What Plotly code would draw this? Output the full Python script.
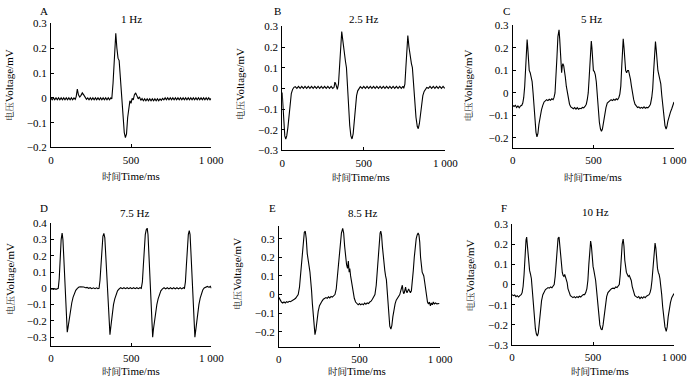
import plotly.graph_objects as go

# ---------------- data ----------------
panel_letters = ["A", "B", "C", "D", "E", "F"]
panel_freqs = ["1 Hz", "2.5 Hz", "5 Hz", "7.5 Hz", "8.5 Hz", "10 Hz"]
x_tick_vals = [0, 500, 1000]
x_tick_text = ["0", "500", "1 000"]
y_label_cn, y_label_en = "电压", "Voltage/mV"
x_label_cn, x_label_en = "时间", "Time/ms"

t_A = [0, 8, 16, 24, 32, 40, 48, 56, 64, 72, 80, 88, 96, 104, 112, 120, 128, 136, 144, 152,
       158, 165, 172, 180, 188, 196, 205, 214, 222, 230, 238, 246, 254, 262, 270, 278, 286, 294,
       302, 310, 318, 326, 334, 342, 350, 358, 366, 374, 380, 388, 396, 405, 412, 419, 426, 433,
       440, 447, 452, 458, 465, 472, 479, 486, 493, 500, 507, 514, 521, 529, 537, 545, 553, 561,
       569, 577, 585, 593, 601, 609, 617, 625, 633, 641, 649, 657, 665, 673, 681, 689, 697, 705,
       713, 721, 729, 737, 745, 753, 761, 769, 777, 785, 793, 801, 809, 817, 825, 833, 841, 849,
       857, 865, 873, 881, 889, 897, 905, 913, 921, 929, 937, 945, 953, 961, 969, 977, 985, 993, 1000]
v_A = [0, -0.008, 0, -0.008, 0, -0.008, 0, -0.008, 0, -0.008, 0, -0.008, 0, -0.008, 0, -0.008, 0, -0.008, 0, -0.006,
       0.005, 0.035, 0.012, 0.003, 0.01, 0.02, 0.012, 0.0, -0.006, 0, -0.008, 0, -0.008, 0, -0.008, 0, -0.008, 0,
       -0.008, 0, -0.008, 0, -0.008, 0, -0.008, 0, -0.008, 0, -0.004, 0.06, 0.18, 0.26, 0.2, 0.16, 0.15, 0.09,
       0.03, -0.04, -0.1, -0.14, -0.16, -0.145, -0.08, -0.03, -0.012, -0.022, -0.002, -0.008, 0.012, 0.02, 0.01, -0.004, 0.004, -0.01,
       -0.003, -0.012, -0.004, -0.012, -0.004, -0.012, -0.004, -0.012, -0.004, -0.012, -0.004, -0.012, -0.004, -0.012, -0.004, -0.01, -0.002, -0.008,
       0, -0.008, 0, -0.008, 0, -0.008, 0, -0.008, 0, -0.008, 0, -0.008, 0, -0.008, 0, -0.008, 0, -0.008,
       0, -0.008, 0, -0.008, 0, -0.008, 0, -0.008, 0, -0.008, 0, -0.008, 0, -0.008, 0, -0.008, 0, -0.008, -0.002]

t_B = [0, 5, 10, 16, 22, 28, 35, 42, 49, 56, 64, 72, 80,
       90, 100, 110, 120, 130, 140, 150, 160, 170, 180, 190, 200, 210, 220, 230, 240, 250, 260, 270, 280, 290, 300, 310,
       318, 323, 328, 333, 338, 345, 352, 358, 365, 372, 380, 388, 394, 400, 407, 414, 421, 428, 435, 442, 449, 456, 463, 470, 479,
       490, 500, 510, 520, 530, 540, 550, 560, 570, 580, 590, 600, 610, 620, 630, 640, 650, 660, 670, 680, 690, 700, 710, 720, 730, 740,
       745, 752, 758, 764, 770, 777, 785, 792, 798, 805, 812, 820, 828, 834, 841, 848, 855, 862, 870, 878, 886,
       896, 906, 916, 926, 936, 946, 956, 966, 976, 986, 996]
v_B = [-0.02, -0.1, -0.18, -0.23, -0.245, -0.23, -0.19, -0.13, -0.07, -0.025, -0.005, 0.005, 0.008,
       0.0, 0.01, 0.0, 0.01, 0.0, 0.01, 0.0, 0.01, 0.0, 0.01, 0.0, 0.01, 0.0, 0.01, 0.0, 0.01, 0.0, 0.01, 0.0, 0.01, 0.0, 0.01, 0.0,
       0.005, 0.03, 0.022, 0.0, -0.005, 0.02, 0.12, 0.22, 0.275, 0.23, 0.16, 0.13, 0.1, 0.0, -0.09, -0.18, -0.23, -0.245, -0.22, -0.15, -0.08, -0.035, -0.012, 0.0, 0.008,
       0.0, 0.01, 0.0, 0.01, 0.0, 0.01, 0.0, 0.01, 0.0, 0.01, 0.0, 0.01, 0.0, 0.01, 0.0, 0.01, 0.0, 0.01, 0.0, 0.01, 0.0, 0.01, 0.0, 0.01, 0.0, 0.01,
       0.0, 0.02, 0.1, 0.2, 0.255, 0.2, 0.14, 0.12, 0.1, 0.02, -0.06, -0.14, -0.185, -0.195, -0.17, -0.12, -0.07, -0.035, -0.015, -0.004, 0.004,
       0.0, 0.01, 0.0, 0.01, 0.0, 0.01, 0.0, 0.01, 0.0, 0.01, 0.0]

t_C = [0, 8, 16, 24, 32, 40, 48, 56, 62, 68, 74, 79, 84, 89, 93, 97, 102, 108, 114, 120, 126, 132, 138, 144, 150, 156, 162,
       170, 178, 186, 194, 202, 210, 218, 226, 234, 242, 250, 256, 262, 268, 274, 280, 287, 291, 295, 299, 303, 307, 311, 316,
       321, 326, 332, 338, 345, 352, 360, 368, 376, 384, 392, 400, 408, 416, 424, 432, 440, 448, 456, 462, 468, 474, 480, 487,
       491, 495, 500, 506, 512, 518, 524, 530, 537, 544, 550, 556, 562, 570, 578, 586, 594, 602, 610, 618, 626, 634, 642, 650,
       658, 664, 670, 676, 681, 685, 690, 695, 700, 706, 712, 718, 724, 730, 736, 742, 750, 758, 766, 774, 782, 790, 798, 806,
       814, 822, 830, 838, 846, 854, 862, 868, 874, 880, 885, 890, 895, 900, 906, 912, 918, 924, 930, 937, 944, 951, 956, 962,
       970, 978, 986, 993, 1000]
v_C = [-0.055, -0.06, -0.055, -0.065, -0.058, -0.066, -0.058, -0.055, -0.045, -0.02, 0.03, 0.1, 0.19, 0.237, 0.2, 0.14, 0.1, 0.09, 0.075, 0.05, 0.0, -0.07, -0.13, -0.175, -0.195, -0.18, -0.14,
       -0.1, -0.075, -0.055, -0.04, -0.035, -0.03, -0.034, -0.028, -0.032, -0.026, -0.03, -0.02, 0.0, 0.06, 0.16, 0.25, 0.28, 0.24, 0.17, 0.1, 0.09, 0.12, 0.13, 0.12,
       0.1, 0.07, 0.03, 0.0, -0.03, -0.05, -0.062, -0.068, -0.07, -0.065, -0.072, -0.065, -0.072, -0.068, -0.07, -0.064, -0.066, -0.06, -0.05, -0.03, 0.0, 0.07, 0.17, 0.23,
       0.2, 0.14, 0.1, 0.095, 0.08, 0.05, -0.01, -0.07, -0.13, -0.16, -0.17, -0.16, -0.13, -0.095, -0.065, -0.045, -0.04, -0.035, -0.03, -0.034, -0.028, -0.032, -0.026, -0.03,
       -0.02, -0.005, 0.03, 0.12, 0.2, 0.24, 0.2, 0.14, 0.1, 0.09, 0.1, 0.1, 0.085, 0.06, 0.03, 0.0, -0.03, -0.05, -0.06, -0.065, -0.062, -0.068, -0.064, -0.068,
       -0.062, -0.068, -0.064, -0.066, -0.06, -0.05, -0.02, 0.02, 0.1, 0.19, 0.228, 0.19, 0.13, 0.1, 0.08, 0.06, 0.04, -0.01, -0.06, -0.11, -0.145, -0.16, -0.15, -0.125,
       -0.1, -0.085, -0.07, -0.055, -0.04]

t_D = [0, 8, 16, 24, 32, 40, 46, 52, 58, 64, 70, 75, 80, 86, 92, 97, 102, 107, 112, 118, 124, 130, 138, 146, 155, 165, 175,
       185, 195, 205, 215, 225, 235, 245, 255, 265, 275, 285, 293, 300, 306, 312, 318, 324, 330, 336, 342, 348, 354, 359, 364,
       368, 373, 378, 384, 390, 398, 406, 415, 425, 435, 445, 455, 465, 475, 485, 495, 505, 515, 525, 535, 545, 555, 563, 570,
       576, 582, 588, 594, 600, 605, 610, 616, 621, 626, 631, 634, 639, 645, 652, 660, 668, 676, 685, 695, 705, 715, 725, 735,
       745, 755, 765, 775, 785, 795, 805, 815, 825, 832, 838, 844, 850, 856, 862, 867, 872, 878, 883, 888, 893, 897, 902, 908,
       915, 922, 930, 938, 946, 955, 965, 975, 985, 993, 1000]
v_D = [-0.005, -0.002, -0.006, -0.002, -0.006, -0.002, 0.0, 0.06, 0.2, 0.3, 0.34, 0.3, 0.2, 0.08, -0.05, -0.18, -0.27, -0.24, -0.2, -0.16, -0.12, -0.09, -0.055, -0.03, -0.012, 0.0, 0.008,
       0.01, 0.01, 0.008, 0.004, 0.006, 0.0, 0.004, -0.002, 0.003, -0.002, 0.003, -0.002, 0.0, 0.05, 0.15, 0.26, 0.32, 0.338, 0.31, 0.2, 0.08, -0.05, -0.18, -0.27,
       -0.285, -0.24, -0.19, -0.14, -0.1, -0.065, -0.035, -0.015, -0.004, 0.004, -0.002, 0.004, -0.002, 0.004, -0.002, 0.004, -0.002, 0.004, -0.002, 0.004, -0.002, 0.004, 0.0, 0.04,
       0.14, 0.26, 0.33, 0.36, 0.37, 0.33, 0.22, 0.08, -0.06, -0.2, -0.29, -0.3, -0.25, -0.2, -0.14, -0.1, -0.065, -0.035, -0.015, -0.003, 0.004, -0.003, 0.004, -0.003,
       0.004, -0.003, 0.004, -0.003, 0.004, -0.003, 0.004, -0.003, 0.004, 0.0, 0.04, 0.14, 0.26, 0.33, 0.355, 0.33, 0.23, 0.09, -0.05, -0.19, -0.29, -0.3, -0.26, -0.2,
       -0.14, -0.1, -0.06, -0.03, -0.01, 0.002, 0.01, 0.012, 0.006, 0.012, 0.0]

t_E = [0, 8, 16, 24, 32, 40, 48, 56, 64, 72, 80, 88, 96, 104, 112, 120, 128, 136, 144, 152, 158, 164, 170, 176, 182, 188, 193,
       198, 203, 208, 213, 218, 224, 230, 236, 244, 252, 260, 268, 276, 284, 292, 300, 308, 316, 324, 332, 340, 348, 356, 364,
       372, 380, 388, 396, 402, 408, 414, 420, 426, 431, 436, 440, 445, 450, 456, 462, 468, 476, 484, 492, 500, 508, 516, 524,
       532, 540, 548, 556, 564, 572, 580, 588, 596, 604, 610, 616, 622, 628, 632, 637, 642, 647, 652, 657, 662, 667, 672, 677,
       682, 688, 695, 701, 707, 714, 721, 728, 735, 742, 750, 756, 762, 766, 770, 774, 778, 782, 786, 790, 795, 800, 805, 810,
       816, 822, 828, 834, 840, 846, 852, 858, 864, 869, 874, 879, 884, 889, 894, 899, 904, 910, 916, 922, 928, 934, 940, 946,
       952, 958, 964, 972, 980, 988, 995]
v_E = [-0.015, -0.03, -0.04, -0.045, -0.04, -0.045, -0.038, -0.042, -0.036, -0.038, -0.032, -0.03, -0.025, -0.02, -0.012, 0.0, 0.04, 0.12, 0.22, 0.3, 0.335, 0.34, 0.3, 0.22, 0.17, 0.15, 0.12,
       0.08, 0.02, -0.05, -0.12, -0.18, -0.215, -0.19, -0.14, -0.09, -0.06, -0.045, -0.035, -0.025, -0.022, -0.016, -0.02, -0.012, -0.018, -0.01, -0.014, -0.008, 0.0, 0.03, 0.1,
       0.2, 0.28, 0.33, 0.355, 0.33, 0.26, 0.2, 0.16, 0.14, 0.18, 0.12, 0.14, 0.1, 0.07, 0.04, 0.0, -0.02, -0.04, -0.05, -0.055, -0.048, -0.055, -0.05, -0.055,
       -0.046, -0.052, -0.045, -0.048, -0.04, -0.035, -0.025, -0.015, 0.0, 0.05, 0.12, 0.2, 0.28, 0.33, 0.34, 0.32, 0.26, 0.2, 0.15, 0.13, 0.1, 0.08, 0.02, -0.05,
       -0.12, -0.17, -0.185, -0.165, -0.12, -0.08, -0.05, -0.03, -0.02, -0.01, 0.0, 0.02, 0.045, 0.05, 0.02, 0.005, 0.01, 0.03, 0.04, 0.02, 0.01, 0.02, 0.03, 0.02,
       0.01, 0.02, 0.06, 0.13, 0.2, 0.26, 0.3, 0.32, 0.33, 0.32, 0.28, 0.2, 0.15, 0.12, 0.11, 0.1, 0.07, 0.03, -0.01, -0.04, -0.05, -0.04, -0.06, -0.045,
       -0.055, -0.04, -0.05, -0.045, -0.05, -0.05, -0.048]

t_F = [0, 8, 16, 24, 32, 40, 48, 56, 62, 68, 74, 80, 86, 90, 94, 98, 103, 108, 114, 119, 124, 130, 137, 144, 150, 156, 162,
       168, 175, 182, 190, 198, 206, 214, 222, 230, 238, 246, 254, 260, 266, 272, 278, 284, 290, 295, 300, 305, 310, 315, 320,
       325, 330, 335, 340, 345, 352, 360, 368, 376, 384, 392, 400, 408, 416, 424, 432, 440, 448, 455, 462, 468, 474, 480, 485,
       490, 495, 500, 505, 510, 516, 522, 528, 535, 542, 549, 556, 562, 569, 576, 584, 592, 600, 608, 616, 624, 632, 640, 648,
       656, 662, 668, 674, 680, 686, 691, 696, 701, 706, 712, 718, 724, 730, 736, 742, 750, 758, 766, 774, 782, 790, 798, 806,
       814, 822, 830, 838, 846, 852, 858, 864, 870, 876, 883, 888, 893, 898, 903, 908, 913, 918, 924, 930, 937, 944, 952, 958,
       964, 970, 978, 986, 993, 1000]
v_F = [-0.05, -0.055, -0.052, -0.06, -0.055, -0.062, -0.055, -0.05, -0.04, -0.01, 0.05, 0.15, 0.22, 0.235, 0.2, 0.14, 0.1, 0.07, 0.05, 0.03, -0.02, -0.09, -0.17, -0.22, -0.245, -0.255, -0.24,
       -0.19, -0.13, -0.08, -0.05, -0.035, -0.025, -0.02, -0.015, -0.018, -0.012, -0.016, -0.008, 0.0, 0.04, 0.12, 0.2, 0.23, 0.235, 0.19, 0.12, 0.09, 0.06, 0.045, 0.04,
       0.05, 0.04, 0.03, 0.01, -0.02, -0.04, -0.055, -0.06, -0.065, -0.06, -0.066, -0.06, -0.064, -0.058, -0.062, -0.055, -0.05, -0.05, -0.04, -0.02, 0.02, 0.1, 0.18, 0.215,
       0.19, 0.13, 0.09, 0.07, 0.05, 0.02, -0.03, -0.09, -0.15, -0.2, -0.22, -0.225, -0.2, -0.15, -0.1, -0.06, -0.04, -0.03, -0.025, -0.02, -0.018, -0.02, -0.012, -0.015,
       -0.008, 0.0, 0.05, 0.13, 0.2, 0.225, 0.19, 0.12, 0.08, 0.06, 0.05, 0.04, 0.045, 0.035, 0.02, -0.01, -0.04, -0.055, -0.06, -0.065, -0.06, -0.07, -0.062, -0.068,
       -0.06, -0.065, -0.058, -0.055, -0.05, -0.04, -0.02, 0.02, 0.09, 0.16, 0.205, 0.18, 0.12, 0.08, 0.06, 0.05, 0.03, 0.0, -0.05, -0.11, -0.17, -0.21, -0.232, -0.21,
       -0.16, -0.12, -0.09, -0.065, -0.055, -0.045]

y_ticks_A = [-0.2, -0.1, 0, 0.1, 0.2, 0.3]
y_ticks_B = [-0.3, -0.2, -0.1, 0, 0.1, 0.2, 0.3]
y_ticks_C = [-0.2, -0.1, 0, 0.1, 0.2, 0.3]
y_ticks_D = [-0.3, -0.2, -0.1, 0, 0.1, 0.2, 0.3, 0.4]
y_ticks_E = [-0.2, -0.1, 0, 0.1, 0.2, 0.3]
y_ticks_F = [-0.3, -0.2, -0.1, 0, 0.1, 0.2, 0.3]

# ---------------- layout geometry (pixels in 700x385 canvas) ----------------
W, H = 700, 385
panels = [
    dict(t=t_A, v=v_A, yt=y_ticks_A, yr=[-0.2, 0.3], x0=49, x1=213, yt_px=18, yb_px=146,
         let=(42, 5), fr=(131, 13), yl=(7, 82), xl=(131, 175)),
    dict(t=t_B, v=v_B, yt=y_ticks_B, yr=[-0.3, 0.3], x0=285.7, x1=452.7, yt_px=21, yb_px=149,
         let=(280.5, 5), fr=(369, 13), yl=(242, 80), xl=(366, 176)),
    dict(t=t_C, v=v_C, yt=y_ticks_C, yr=[-0.245, 0.3], x0=521.7, x1=686.7, yt_px=20, yb_px=146.7,
         let=(515.5, 5), fr=(602.5, 13), yl=(476, 82), xl=(603.5, 176)),
    dict(t=t_D, v=v_D, yt=y_ticks_D, yr=[-0.355, 0.4], x0=49, x1=213.3, yt_px=224.3, yb_px=351,
         let=(42, 208), fr=(135, 213.5), yl=(7, 282), xl=(131.5, 377)),
    dict(t=t_E, v=v_E, yt=y_ticks_E, yr=[-0.28, 0.37], x0=282.3, x1=447.3, yt_px=226.7, yb_px=351.7,
         let=(275.5, 208), fr=(368, 213.5), yl=(240, 277), xl=(362.5, 377)),
    dict(t=t_F, v=v_F, yt=y_ticks_F, yr=[-0.3, 0.3], x0=521, x1=686.7, yt_px=225, yb_px=350,
         let=(512.5, 208), fr=(606.5, 213), yl=(478, 278), xl=(610.5, 377)),
]

FONT = "Liberation Serif, Times New Roman, Noto Serif CJK SC, Noto Sans CJK SC, serif"
FS = 11


def fmt(v):
    if abs(v) < 1e-9:
        return "0"
    s = f"{abs(v):.1f}"
    return ("\u2212" + s) if v < 0 else s


def mixed(cn, en):
    return f'<span style="font-size:9.5px;color:#000000">{cn}</span>{en}'


fig = go.Figure()
annotations = []
for i, p in enumerate(panels):
    n = i + 1
    xa = "x" if n == 1 else f"x{n}"
    ya = "y" if n == 1 else f"y{n}"
    fig.add_trace(go.Scatter(x=p["t"], y=p["v"], mode="lines",
                             line=dict(color="black", width=1.1),
                             xaxis=xa, yaxis=ya, showlegend=False, hoverinfo="skip"))
    xkey = "xaxis" if n == 1 else f"xaxis{n}"
    ykey = "yaxis" if n == 1 else f"yaxis{n}"
    fig.layout[xkey] = dict(
        domain=[p["x0"] / W, p["x1"] / W], anchor=ya, range=[0, 1000],
        showline=True, linecolor="black", linewidth=1, mirror=False,
        ticks="inside", ticklen=3, tickcolor="black", tickwidth=1,
        tickvals=x_tick_vals, ticktext=x_tick_text, showgrid=False, zeroline=False,
        tickfont=dict(family=FONT, size=FS, color="black"), ticklabelstandoff=2)
    fig.layout[ykey] = dict(
        domain=[1 - p["yb_px"] / H, 1 - p["yt_px"] / H], anchor=xa, range=p["yr"],
        showline=True, linecolor="black", linewidth=1, mirror=False,
        ticks="inside", ticklen=3, tickcolor="black", tickwidth=1,
        tickvals=p["yt"], ticktext=[fmt(v) for v in p["yt"]], showgrid=False, zeroline=False,
        tickfont=dict(family=FONT, size=FS, color="black"), ticklabelstandoff=1)

    def ann(pos, text, angle=0):
        annotations.append(dict(x=pos[0] / W, y=1 - pos[1] / H, xref="paper", yref="paper",
                                text=text, showarrow=False, xanchor="center", yanchor="middle",
                                textangle=angle, font=dict(family=FONT, size=FS, color="black")))
    ann(p["let"], panel_letters[i])
    ann(p["fr"], panel_freqs[i])
    ann(p["yl"], mixed(y_label_cn, y_label_en), -90)
    ann(p["xl"], mixed(x_label_cn, x_label_en))

fig.update_layout(width=W, height=H, margin=dict(l=0, r=0, t=0, b=0),
                  paper_bgcolor="white", plot_bgcolor="white", annotations=annotations,
                  dragmode=False)
fig.write_html("out.html", config={"displayModeBar": False, "staticPlot": True},
               post_script="document.body.style.margin='0';document.body.style.overflow='hidden';")
